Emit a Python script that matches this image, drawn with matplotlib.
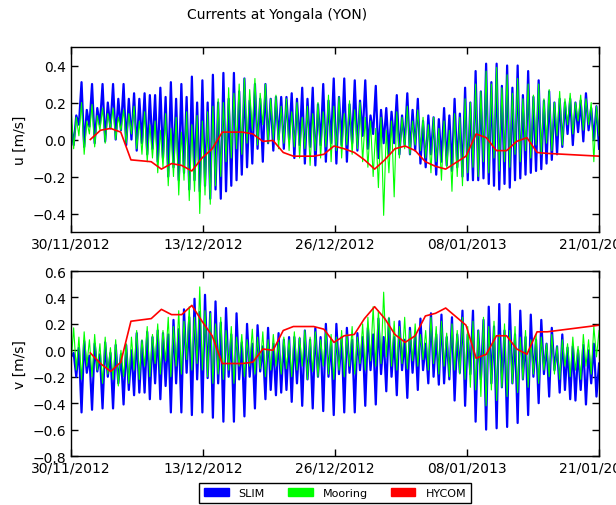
import matplotlib
matplotlib.use("Agg")
import matplotlib.pyplot as plt
import matplotlib.dates as mdates
from matplotlib.patches import Patch
from matplotlib.ticker import FixedLocator
from datetime import datetime, timedelta
import numpy as np

plt.rcParams["font.family"] = ["DejaVu Sans"]
plt.rcParams["font.size"] = 10

START = datetime(2012, 11, 30)
END = datetime(2013, 1, 21)
CYCLE_DAYS = 12.42 / 24.0  # semidiurnal tidal cycle

# ---- u component [m/s]: maximum of each tidal cycle, then the minimum half a cycle later
slim_u_high = [
    0.08, 0.13, 0.31, 0.16, 0.30, 0.17, 0.30, 0.20, 0.30, 0.22,
    0.30, 0.22, 0.25, 0.22, 0.25, 0.24, 0.24, 0.28, 0.23, 0.31,
    0.22, 0.30, 0.23, 0.34, 0.20, 0.32, 0.20, 0.35, 0.20, 0.36,
    0.22, 0.36, 0.26, 0.33, 0.21, 0.30, 0.22, 0.30, 0.22, 0.23,
    0.23, 0.23, 0.25, 0.22, 0.28, 0.22, 0.28, 0.19, 0.30, 0.21,
    0.33, 0.23, 0.33, 0.19, 0.32, 0.21, 0.32, 0.13, 0.29, 0.16,
    0.17, 0.15, 0.24, 0.13, 0.25, 0.16, 0.22, 0.10, 0.13, 0.12,
    0.11, 0.17, 0.13, 0.22, 0.14, 0.28, 0.20, 0.37, 0.26, 0.41,
    0.31, 0.41, 0.29, 0.40, 0.28, 0.40, 0.24, 0.37, 0.23, 0.32,
    0.21, 0.26, 0.20, 0.22, 0.20, 0.22, 0.20, 0.21, 0.25, 0.17, 0.18,
]
slim_u_low = [
    -0.03, 0.08, -0.04, 0.07, -0.02, 0.08, -0.01, 0.06, 0.00, 0.05,
    -0.03, 0.00, -0.06, -0.02, -0.08, -0.05, -0.12, -0.10, -0.20, -0.15,
    -0.22, -0.18, -0.27, -0.22, -0.28, -0.25, -0.32, -0.27, -0.32, -0.28,
    -0.25, -0.22, -0.19, -0.15, -0.13, -0.05, -0.12, -0.02, -0.06, 0.00,
    -0.05, 0.00, -0.10, -0.03, -0.13, -0.04, -0.14, -0.03, -0.12, -0.02,
    -0.13, -0.03, -0.12, -0.02, -0.06, 0.02, -0.05, 0.03, -0.10, -0.02,
    -0.08, -0.02, -0.08, -0.03, -0.08, -0.06, -0.13, -0.15, -0.08, -0.19,
    -0.12, -0.14, -0.17, -0.15, -0.20, -0.22, -0.22, -0.22, -0.21, -0.24,
    -0.25, -0.27, -0.24, -0.26, -0.22, -0.21, -0.19, -0.18, -0.17, -0.16,
    -0.13, -0.11, -0.08, -0.04, 0.03, -0.03, 0.04, -0.01, 0.05, 0.00, -0.05,
]
mooring_u_high = [
    0.18, 0.12, 0.20, 0.10, 0.19, 0.13, 0.17, 0.14,
    0.17, 0.12, 0.16, 0.14, 0.18, 0.10, 0.15, 0.08,
    0.10, 0.05, 0.14, 0.06, 0.12, 0.04, 0.15, 0.08, 0.13, 0.10,
    0.15, 0.18, 0.22, 0.20, 0.28, 0.25, 0.30, 0.33,
    0.27, 0.33, 0.25, 0.30, 0.22, 0.24,
    0.18, 0.22, 0.15, 0.20, 0.12, 0.18, 0.14,
    0.20, 0.15, 0.24, 0.18, 0.23, 0.14, 0.21, 0.16, 0.20, 0.12,
    0.10, 0.06, 0.12, 0.05, 0.10, 0.15,
    0.12, 0.18, 0.10, 0.16, 0.12,
    0.08, 0.12, 0.06, 0.10, 0.05, 0.14, 0.12, 0.22,
    0.20, 0.30, 0.26, 0.37, 0.30, 0.39, 0.28, 0.35, 0.25, 0.33, 0.22, 0.30,
    0.24, 0.30, 0.22, 0.27, 0.20, 0.26,
    0.22, 0.25, 0.20, 0.24, 0.22, 0.20, 0.18,
]
mooring_u_low = [
    -0.05, 0.02, -0.08, 0.03, -0.04, 0.05, -0.02, 0.06,
    0.00, 0.05, -0.02, 0.03, -0.05, -0.08, -0.12, -0.10,
    -0.18, -0.15, -0.25, -0.20, -0.30, -0.22, -0.33, -0.28, -0.40, -0.30,
    -0.35, -0.25, -0.20, -0.12, -0.10, -0.05, -0.08, -0.02,
    0.05, -0.03, 0.08, -0.02, 0.00, -0.05,
    -0.02, -0.06, -0.04, -0.10, -0.05, -0.14, -0.06,
    -0.10, -0.04, -0.12, -0.06, -0.10, -0.03, -0.08, -0.05, -0.12, -0.15,
    -0.20, -0.26, -0.41, -0.18, -0.31, -0.10,
    -0.05, -0.08, -0.03, -0.06, -0.10,
    -0.18, -0.12, -0.22, -0.15, -0.28, -0.20, -0.25, -0.18,
    -0.15, -0.20, -0.12, -0.18, -0.10, -0.17, -0.12, -0.15, -0.08, -0.12, -0.06, -0.10,
    -0.03, -0.08, -0.02, -0.06, 0.02, -0.03,
    0.08, 0.03, 0.10, 0.05, 0.08, -0.12, 0.02,
]

# ---- v component [m/s]: minimum of each tidal cycle, then the maximum half a cycle later
slim_v_low = [
    -0.05, -0.20, -0.47, -0.17, -0.45, -0.16, -0.44, -0.20, -0.44, -0.25,
    -0.41, -0.30, -0.34, -0.32, -0.32, -0.37, -0.25, -0.37, -0.27, -0.47,
    -0.25, -0.47, -0.17, -0.49, -0.22, -0.47, -0.21, -0.51, -0.25, -0.54,
    -0.20, -0.54, -0.22, -0.50, -0.20, -0.44, -0.16, -0.37, -0.30, -0.34,
    -0.32, -0.30, -0.39, -0.25, -0.42, -0.22, -0.44, -0.20, -0.46, -0.20,
    -0.49, -0.18, -0.47, -0.17, -0.47, -0.15, -0.42, -0.15, -0.41, -0.18,
    -0.31, -0.20, -0.34, -0.15, -0.36, -0.17, -0.30, -0.15, -0.25, -0.20,
    -0.26, -0.25, -0.22, -0.38, -0.17, -0.42, -0.18, -0.54, -0.22, -0.60,
    -0.25, -0.59, -0.28, -0.58, -0.25, -0.55, -0.22, -0.49, -0.20, -0.40,
    -0.18, -0.35, -0.15, -0.32, -0.30, -0.37, -0.38, -0.30, -0.41, -0.25, -0.35,
]
slim_v_high = [
    -0.02, 0.02, 0.07, -0.04, 0.05, -0.03, 0.06, -0.02, 0.04, -0.03,
    0.04, 0.00, 0.13, 0.07, 0.14, 0.10, 0.15, 0.13, 0.12, 0.23,
    0.16, 0.31, 0.25, 0.39, 0.29, 0.42, 0.29, 0.37, 0.21, 0.32,
    0.12, 0.28, 0.06, 0.20, 0.05, 0.19, 0.03, 0.17, 0.05, 0.13,
    0.08, 0.10, 0.10, 0.09, 0.15, 0.08, 0.17, 0.10, 0.20, 0.08,
    0.20, 0.10, 0.17, 0.08, 0.13, 0.10, 0.17, 0.12, 0.24, 0.10,
    0.24, 0.10, 0.22, 0.08, 0.17, 0.12, 0.24, 0.05, 0.28, 0.12,
    0.27, 0.10, 0.25, 0.12, 0.30, 0.12, 0.30, 0.15, 0.23, 0.33,
    0.18, 0.35, 0.15, 0.35, 0.12, 0.30, 0.10, 0.27, 0.08, 0.23,
    0.05, 0.17, 0.03, 0.12, 0.02, 0.03, 0.00, 0.04, 0.00, 0.05, -0.10,
]
mooring_v_low = [
    -0.10, -0.15, -0.22, -0.12, -0.20, -0.15, -0.25, -0.18, -0.22, -0.27,
    -0.20, -0.25, -0.15, -0.22, -0.12, -0.20,
    -0.10, -0.18, -0.08, -0.20, -0.12, -0.18, -0.07, -0.15, -0.10,
    -0.15, -0.20, -0.25, -0.18, -0.22, -0.15, -0.25, -0.12, -0.20,
    -0.12, -0.18, -0.14, -0.20, -0.15, -0.12, -0.18, -0.14, -0.20, -0.15,
    -0.12, -0.22, -0.16, -0.20, -0.12, -0.18, -0.22, -0.15, -0.20, -0.12, -0.18, -0.10, -0.15,
    -0.08, -0.12, -0.10, -0.05, -0.12, -0.15, -0.10, -0.14, -0.08, -0.12,
    -0.07, -0.15, -0.10, -0.18, -0.12, -0.20, -0.15, -0.18, -0.22, -0.28,
    -0.30, -0.35, -0.42, -0.30, -0.38, -0.28, -0.35, -0.25, -0.32, -0.22, -0.28, -0.18,
    -0.25, -0.15, -0.20, -0.18, -0.22, -0.12, -0.20, -0.15, -0.22, -0.12, -0.18, -0.05,
]
mooring_v_high = [
    0.17, 0.10, 0.14, 0.08, 0.12, 0.05, 0.10, 0.02, 0.08, 0.00,
    0.05, 0.10, 0.15, 0.08, 0.18, 0.12,
    0.20, 0.15, 0.25, 0.18, 0.30, 0.22, 0.33, 0.25, 0.48,
    0.30, 0.28, 0.20, 0.25, 0.15, 0.18, 0.10, 0.12, 0.08,
    0.16, 0.10, 0.14, 0.08, 0.12, 0.06, 0.10, 0.08, 0.14, 0.10,
    0.15, 0.10, 0.14, 0.08, 0.15, 0.12, 0.10, 0.15, 0.12, 0.18, 0.10, 0.20, 0.25,
    0.33, 0.30, 0.44, 0.25, 0.22, 0.18, 0.25, 0.15, 0.20, 0.12,
    0.15, 0.25, 0.18, 0.22, 0.13, 0.20, 0.15, 0.25, 0.18, 0.22,
    0.15, 0.25, 0.18, 0.22, 0.12, 0.20, 0.15, 0.18, 0.10, 0.15, 0.08, 0.12,
    0.10, 0.05, 0.12, 0.03, 0.08, 0.05, 0.10, 0.03, 0.12, 0.08, 0.18, 0.15,
]

# ---- HYCOM daily output (days after 30/11/2012)
hycom_day = [1.9, 2.9, 3.9, 4.9, 5.9, 7.9, 8.9, 9.9, 10.9, 11.9, 12.9, 13.9, 14.9,
             16.9, 17.9, 18.9, 19.9, 20.9, 21.9, 23.9, 24.9, 25.9, 26.9, 27.9, 28.9,
             29.9, 30.9, 31.9, 32.9, 33.9, 34.9, 35.9, 36.9, 38.9, 39.9, 40.9, 41.9,
             42.9, 43.9, 44.9, 45.9, 46.9, 52.0]
hycom_u = [0.0, 0.05, 0.06, 0.04, -0.11, -0.12, -0.16, -0.13, -0.14, -0.17, -0.10, -0.05, 0.04,
           0.04, 0.03, -0.01, -0.005, -0.07, -0.09, -0.09, -0.08, -0.035, -0.05, -0.07, -0.11,
           -0.16, -0.11, -0.05, -0.035, -0.06, -0.12, -0.145, -0.16, -0.09, 0.03, 0.01, -0.06,
           -0.06, -0.01, 0.01, -0.07, -0.075, -0.09]
hycom_v = [-0.02, -0.10, -0.16, -0.09, 0.22, 0.24, 0.31, 0.27, 0.27, 0.34, 0.22, 0.11, -0.10,
           -0.10, -0.09, 0.01, 0.0, 0.15, 0.18, 0.18, 0.16, 0.06, 0.11, 0.12, 0.24,
           0.33, 0.24, 0.12, 0.06, 0.11, 0.26, 0.28, 0.32, 0.19, -0.06, -0.03, 0.11,
           0.11, 0.01, -0.03, 0.14, 0.14, 0.19]

legend_labels = ["SLIM", "Mooring", "HYCOM"]
colors = {"SLIM": "#0000ff", "Mooring": "#00ff00", "HYCOM": "#ff0000"}
widths = {"SLIM": 1.6, "Mooring": 0.8, "HYCOM": 1.2}

t0 = mdates.date2num(START)


def tidal_trace(first, second):
    """Alternate per-cycle extremes: `first` on the cycle, `second` half a cycle later."""
    n = min(len(first), len(second))
    t = np.empty(2 * n)
    y = np.empty(2 * n)
    t[0::2] = t0 + np.arange(n) * CYCLE_DAYS
    t[1::2] = t0 + (np.arange(n) + 0.5) * CYCLE_DAYS
    y[0::2] = first[:n]
    y[1::2] = second[:n]
    return t, y


fig = plt.figure(figsize=(6.16, 5.06), dpi=100)
ax_u = fig.add_axes([0.1153, 0.5395, 0.8571, 0.3656])
ax_v = fig.add_axes([0.1153, 0.0968, 0.8571, 0.3656])

panels = [
    (ax_u, (slim_u_high, slim_u_low), (mooring_u_high, mooring_u_low), hycom_u,
     "u [m/s]", (-0.5, 0.5), [-0.4, -0.2, 0.0, 0.2, 0.4]),
    (ax_v, (slim_v_low, slim_v_high), (mooring_v_low, mooring_v_high), hycom_v,
     "v [m/s]", (-0.8, 0.6), [-0.8, -0.6, -0.4, -0.2, 0.0, 0.2, 0.4, 0.6]),
]

date_ticks = [mdates.date2num(START + timedelta(days=13 * i)) for i in range(5)]
hycom_t = t0 + np.array(hycom_day)

for ax, slim, mooring, hycom, ylabel, ylim, yticks in panels:
    ts, ys = tidal_trace(*slim)
    tm, ym = tidal_trace(*mooring)
    ax.plot(ts, ys, color=colors["SLIM"], lw=widths["SLIM"])
    ax.plot(tm, ym, color=colors["Mooring"], lw=widths["Mooring"])
    ax.plot(hycom_t, hycom, color=colors["HYCOM"], lw=widths["HYCOM"])

    ax.set_xlim(mdates.date2num(START), mdates.date2num(END))
    ax.set_ylim(*ylim)
    ax.set_yticks(yticks)
    ax.xaxis.set_major_locator(FixedLocator(date_ticks))
    ax.xaxis.set_major_formatter(mdates.DateFormatter("%d/%m/%Y"))
    ax.set_ylabel(ylabel)
    ax.tick_params(direction="in", top=True, right=True, length=5, width=1)
    for sp in ax.spines.values():
        sp.set_linewidth(1.0)

fig.text(0.45, 0.971, "Currents at Yongala (YON)", ha="center", va="center", fontsize=10)

handles = [Patch(facecolor=colors[k], edgecolor=colors[k]) for k in legend_labels]
fig.legend(handles, legend_labels, loc="center", bbox_to_anchor=(0.544, 0.0247), ncol=3,
           fancybox=False, edgecolor="black", framealpha=1, fontsize=8,
           handlelength=2.2, handletextpad=0.9, columnspacing=2.1, borderpad=0.45)

fig.savefig("out.png", dpi=100)
